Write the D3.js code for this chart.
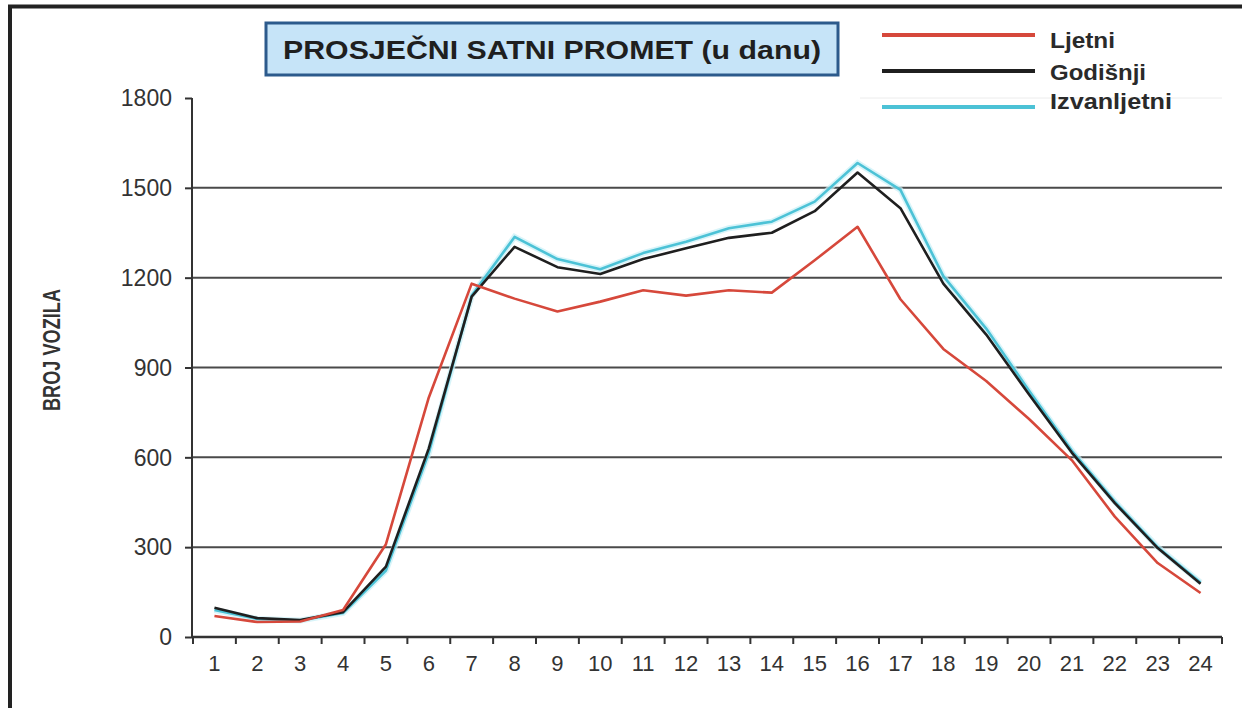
<!DOCTYPE html>
<html><head><meta charset="utf-8">
<script src="https://cdn.jsdelivr.net/npm/d3@7"></script>
<style>body{margin:0;background:#fff}svg{display:block}</style>
</head><body>
<svg id="c" width="1242" height="708"></svg>
<script>
const hours = d3.range(1, 25).map(String);
const yTicks = [0, 300, 600, 900, 1200, 1500, 1800];
const seriesNames = ["Ljetni", "Godišnji", "Izvanljetni"];
const ljetni = [70, 50, 52, 90, 310, 800, 1180, 1130, 1087, 1120, 1158, 1140, 1158, 1150, 1258, 1370, 1128, 962, 855, 728, 590, 402, 247, 147];
const godisnji = [98, 63, 57, 83, 235, 630, 1137, 1303, 1235, 1212, 1262, 1298, 1333, 1350, 1422, 1551, 1432, 1180, 1010, 810, 615, 447, 297, 178];
const izvanljetni = [90, 60, 55, 80, 222, 615, 1140, 1336, 1262, 1228, 1282, 1320, 1365, 1387, 1454, 1583, 1493, 1205, 1030, 822, 622, 452, 300, 182];

const svg = d3.select("#c");
const FONT = "'Liberation Sans', Arial, sans-serif";

// frame
svg.append("rect").attr("x", 0).attr("y", 0).attr("width", 1242).attr("height", 708).attr("fill", "#fff");
svg.append("line").attr("x1", 8).attr("x2", 1242).attr("y1", 6.5).attr("y2", 6.5).attr("stroke", "#222").attr("stroke-width", 4);
svg.append("line").attr("x1", 10).attr("x2", 10).attr("y1", 5).attr("y2", 708).attr("stroke", "#222").attr("stroke-width", 4);

const x = d3.scaleBand().domain(hours).range([193, 1222]);
const y = d3.scaleLinear().domain([0, 1800]).range([637, 98]);

// grid
svg.append("g").selectAll("line").data(yTicks.filter(t => t > 0 && t < 1800)).join("line")
  .attr("x1", 192).attr("x2", 1222).attr("y1", d => y(d)).attr("y2", d => y(d))
  .attr("stroke", "#4a4a4a").attr("stroke-width", 2);
svg.append("line").attr("x1", 860).attr("x2", 1222).attr("y1", 98).attr("y2", 98).attr("stroke", "#ececec").attr("stroke-width", 1);

// y axis
const yAxis = svg.append("g").attr("transform", "translate(192,0)")
  .call(d3.axisLeft(y).tickValues(yTicks).tickSize(7).tickPadding(13).tickFormat(d3.format("d")));
yAxis.select(".domain").attr("stroke", "#333").attr("stroke-width", 2).attr("d", "M0,98V637");
yAxis.selectAll(".tick line").attr("stroke", "#333").attr("stroke-width", 2);
yAxis.selectAll("text").attr("font-family", FONT).attr("font-size", 23).attr("fill", "#333").attr("dy", "0.34em");

// x axis
const xAxis = svg.append("g").attr("transform", "translate(0,637)")
  .call(d3.axisBottom(x).tickSize(0).tickPadding(18));
xAxis.select(".domain").attr("stroke", "#333").attr("stroke-width", 2.5).attr("d", "M192,0H1222");
xAxis.selectAll("text").attr("font-family", FONT).attr("font-size", 22).attr("fill", "#333");
svg.append("g").selectAll("line").data(hours.concat(["end"])).join("line")
  .attr("x1", (d, i) => i < 24 ? x(d) : x.range()[1]).attr("x2", (d, i) => i < 24 ? x(d) : x.range()[1])
  .attr("y1", 637).attr("y2", 644).attr("stroke", "#333").attr("stroke-width", 2);

// y title
svg.append("text").attr("transform", "translate(60,350) rotate(-90)").attr("text-anchor", "middle")
  .attr("font-family", FONT).attr("font-weight", "bold").attr("font-size", 23).attr("fill", "#333")
  .attr("textLength", 122).attr("lengthAdjust", "spacingAndGlyphs").text("BROJ VOZILA");

// lines
const line = d3.line().x((d, i) => x(hours[i]) + x.bandwidth() / 2).y(d => y(d));
const data = [
  {name: seriesNames[2], vals: izvanljetni, color: "#4cc2d6"},
  {name: seriesNames[1], vals: godisnji, color: "#1f1f1f"},
  {name: seriesNames[0], vals: ljetni, color: "#d6483b"}
];
svg.append("path").attr("d", line(izvanljetni)).attr("fill", "none").attr("stroke", "#c8f0f7").attr("stroke-width", 6).attr("opacity", 0.7);
data.forEach(s => {
  svg.append("path").attr("d", line(s.vals)).attr("fill", "none").attr("stroke", s.color)
    .attr("stroke-width", 2.6).attr("stroke-linejoin", "round");
});

// title box
svg.append("rect").attr("x", 266).attr("y", 23).attr("width", 572).attr("height", 52)
  .attr("fill", "#c6e4f8").attr("stroke", "#2c5a8c").attr("stroke-width", 3);
svg.append("text").attr("x", 552).attr("y", 59).attr("text-anchor", "middle")
  .attr("font-family", FONT).attr("font-weight", "bold").attr("font-size", 26).attr("fill", "#1f1f1f")
  .attr("textLength", 538).attr("lengthAdjust", "spacingAndGlyphs").text("PROSJEČNI SATNI PROMET (u danu)");

// legend
const legY = [35, 71, 107];
const legTextY = [48, 80, 109];
const legLen = [65, 96, 122];
const legColors = ["#d6483b", "#1f1f1f", "#4cc2d6"];
seriesNames.forEach((n, i) => {
  svg.append("line").attr("x1", 882).attr("x2", 1035).attr("y1", legY[i]).attr("y2", legY[i])
    .attr("stroke", legColors[i]).attr("stroke-width", 4);
  svg.append("text").attr("x", 1050).attr("y", legTextY[i]).attr("font-family", FONT).attr("font-weight", "bold")
    .attr("font-size", 22).attr("fill", "#2a2a2a")
    .attr("textLength", legLen[i]).attr("lengthAdjust", "spacingAndGlyphs").text(n);
});
</script>
</body></html>
